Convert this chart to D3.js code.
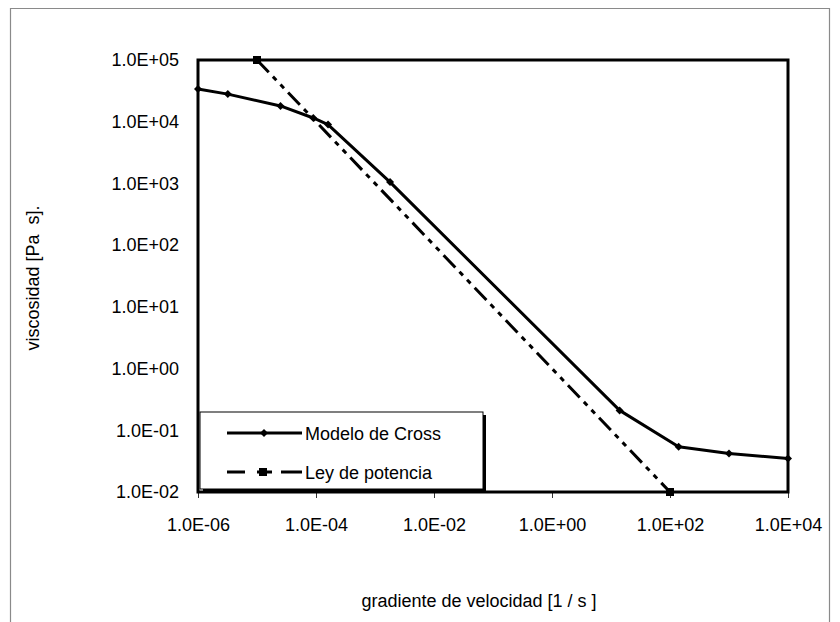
<!DOCTYPE html>
<html>
<head>
<meta charset="utf-8">
<script src="https://cdn.jsdelivr.net/npm/d3@7"></script>
<style>
  html, body { margin: 0; padding: 0; background: #fff; }
  svg { display: block; font-family: "Liberation Sans", Arial, sans-serif; }
  text { fill: #000; }
</style>
</head>
<body>
<svg id="chart" width="840" height="622"></svg>
<script>
// Shear rate [1/s] and viscosity [Pa s] for the Cross model curve
const crossRate = [1e-6, 3.2e-6, 2.5e-5, 9e-5, 1.6e-4, 1.8e-3, 14, 140, 1000, 1e4];
const crossVisc = [3.4e4, 2.8e4, 1.8e4, 1.15e4, 9.0e3, 1.05e3, 0.21, 0.054, 0.042, 0.035];

// Power-law fit (end points)
const powerRate = [1e-5, 1e2];
const powerVisc = [1e5, 1e-2];

// Axis ticks
const xTicks = [1e-6, 1e-4, 1e-2, 1e0, 1e2, 1e4];
const yTicks = [1e-2, 1e-1, 1e0, 1e1, 1e2, 1e3, 1e4, 1e5];

const seriesNames = ["Modelo de Cross", "Ley de potencia"];

const svg = d3.select("#chart");
const W = 840, H = 622;
const plot = { left: 198, right: 788, top: 60, bottom: 492 };
const FS = 18;

const x = d3.scaleLog().domain([1e-6, 1e4]).range([plot.left, plot.right]);
const y = d3.scaleLog().domain([1e-2, 1e5]).range([plot.bottom, plot.top]);

// "1.0E+05" style labels
function sci(v) {
  const e = Math.round(Math.log10(v));
  const sign = e < 0 ? "-" : "+";
  return "1.0E" + sign + String(Math.abs(e)).padStart(2, "0");
}

// outer chart border
svg.append("path")
  .attr("d", `M10.5,${H + 5} V8.5 H829.5 V${H + 5}`)
  .attr("fill", "none").attr("stroke", "#8a8a8a").attr("stroke-width", 1.2);

// x axis
const xAxis = svg.append("g")
  .attr("transform", `translate(0,${plot.bottom})`)
  .call(d3.axisBottom(x).tickValues(xTicks).tickFormat(sci).tickSizeInner(6).tickSizeOuter(0).tickPadding(20));
xAxis.select(".domain").remove();
xAxis.selectAll(".tick line").attr("stroke", "#333").attr("stroke-width", 1);
xAxis.selectAll(".tick text").attr("font-size", FS).attr("font-family", "Liberation Sans, Arial, sans-serif");

// y axis
const yAxis = svg.append("g")
  .attr("transform", `translate(${plot.left},0)`)
  .call(d3.axisLeft(y).tickValues(yTicks).tickFormat(sci).tickSize(0).tickPadding(19));
yAxis.select(".domain").remove();
yAxis.selectAll(".tick text").attr("font-size", FS).attr("font-family", "Liberation Sans, Arial, sans-serif");

// axis titles
svg.append("text")
  .attr("x", 479).attr("y", 607)
  .attr("text-anchor", "middle").attr("font-size", FS)
  .style("white-space", "pre")
  .text("gradiente de velocidad [1 / s ]");

svg.append("text")
  .attr("transform", `translate(39,${(plot.top + plot.bottom) / 2 + 2}) rotate(-90)`)
  .attr("text-anchor", "middle").attr("font-size", FS)
  .style("white-space", "pre")
  .text("viscosidad [Pa  s].");

// plot frame
svg.append("rect")
  .attr("x", plot.left).attr("y", plot.top)
  .attr("width", plot.right - plot.left).attr("height", plot.bottom - plot.top)
  .attr("fill", "none").attr("stroke", "#000").attr("stroke-width", 3);

const line = d3.line().x(d => x(d[0])).y(d => y(d[1]));
const dash = "17,6,5,6,5,6";

// power-law line
const powerData = powerRate.map((r, i) => [r, powerVisc[i]]);
svg.append("path")
  .datum(powerData)
  .attr("d", line)
  .attr("fill", "none").attr("stroke", "#000").attr("stroke-width", 3)
  .attr("stroke-dasharray", dash);
svg.selectAll(".pmark").data(powerData).enter().append("rect")
  .attr("x", d => x(d[0]) - 4).attr("y", d => y(d[1]) - 4)
  .attr("width", 8).attr("height", 8).attr("fill", "#000");

// Cross model line
const crossData = crossRate.map((r, i) => [r, crossVisc[i]]);
svg.append("path")
  .datum(crossData)
  .attr("d", line)
  .attr("fill", "none").attr("stroke", "#000").attr("stroke-width", 3)
  .attr("stroke-linejoin", "round");
// small square-diamond markers
const diamond = d3.symbol().type(d3.symbolSquare).size(32);
svg.selectAll(".cmark").data(crossData).enter().append("path")
  .attr("d", diamond)
  .attr("transform", d => `translate(${x(d[0])},${y(d[1])}) rotate(45)`)
  .attr("fill", "#000");

// legend
const lg = svg.append("g");
const L = { x: 200, y: 412, w: 283, h: 77 };
lg.append("rect").attr("x", L.x + 3).attr("y", L.y + 3).attr("width", L.w).attr("height", L.h).attr("fill", "#000");
lg.append("rect").attr("x", L.x).attr("y", L.y).attr("width", L.w).attr("height", L.h)
  .attr("fill", "#fff").attr("stroke", "#000").attr("stroke-width", 1);

const rows = [L.y + 21, L.y + 60];
// Cross entry
lg.append("line").attr("x1", 227).attr("x2", 302).attr("y1", rows[0]).attr("y2", rows[0])
  .attr("stroke", "#000").attr("stroke-width", 3);
lg.append("path").attr("d", diamond).attr("transform", `translate(264,${rows[0]}) rotate(45)`).attr("fill", "#000");
// power-law entry
lg.append("line").attr("x1", 227).attr("x2", 302).attr("y1", rows[1]).attr("y2", rows[1])
  .attr("stroke", "#000").attr("stroke-width", 3).attr("stroke-dasharray", "18,12,15,9,21");
lg.append("rect").attr("x", 259).attr("y", rows[1] - 4).attr("width", 8).attr("height", 8).attr("fill", "#000");

seriesNames.forEach((name, i) => {
  lg.append("text").attr("x", 305).attr("y", rows[i] + 6.5)
    .attr("font-size", FS).text(name);
});
</script>
</body>
</html>
